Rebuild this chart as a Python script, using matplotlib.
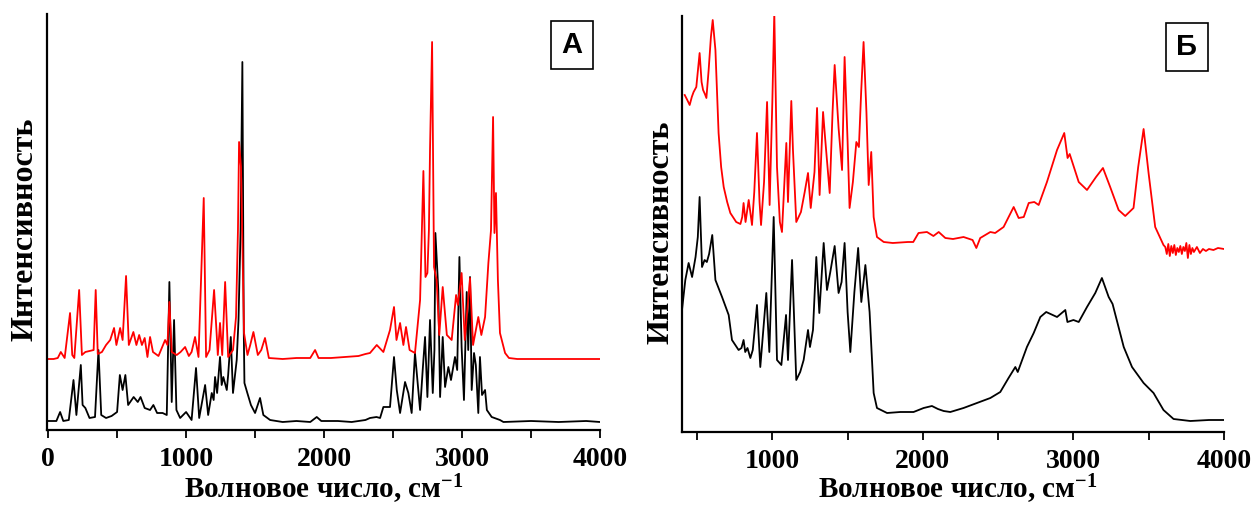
import matplotlib
matplotlib.use('Agg')
import matplotlib.pyplot as plt
from matplotlib.ticker import MultipleLocator

plt.rcParams['font.family'] = ['Liberation Serif', 'DejaVu Serif']
plt.rcParams['font.weight'] = 'bold'
plt.rcParams['mathtext.fontset'] = 'custom'
plt.rcParams['mathtext.rm'] = 'Liberation Serif:bold'
plt.rcParams['mathtext.bf'] = 'Liberation Serif:bold'
plt.rcParams['mathtext.default'] = 'bf'

# ---- panel A (calculated spectra), intensity in arbitrary units ----
a_black_x = [0, 60, 87, 110, 150, 184, 205, 237, 250, 270, 300, 340, 365, 385, 420, 460, 500, 520, 540, 560,
             580, 620, 650, 670, 700, 739, 763, 790, 830, 860, 879, 896, 913, 930, 957, 1000, 1040, 1072, 1095,
             1138, 1160, 1186, 1200, 1210, 1225, 1246, 1258, 1270, 1295, 1305, 1324, 1340, 1367, 1380, 1395,
             1408, 1418, 1423, 1444, 1470, 1500, 1536, 1560, 1609, 1700, 1800, 1900, 1947, 1980, 2100, 2200,
             2300, 2333, 2380, 2406, 2430, 2478, 2507, 2527, 2551, 2587, 2611, 2635, 2659, 2696, 2715, 2732,
             2749, 2768, 2788, 2800, 2807, 2828, 2841, 2860, 2877, 2901, 2920, 2949, 2965, 2981, 2997, 3014,
             3034, 3045, 3058, 3070, 3087, 3100, 3118, 3130, 3145, 3167, 3180, 3215, 3275, 3300, 3500, 3700,
             3900, 4000]
a_black_y = [9, 9, 18, 9, 10, 50, 15, 65, 25, 22, 12, 13, 80, 15, 12, 14, 18, 55, 40, 55,
             25, 33, 28, 33, 22, 20, 25, 17, 17, 15, 148, 28, 110, 20, 12, 18, 10, 62, 12,
             45, 15, 37, 30, 53, 37, 73, 45, 53, 40, 55, 93, 37, 70, 110, 200,
             368, 100, 47, 37, 25, 17, 32, 15, 10, 8, 9, 8, 13, 9, 9, 8,
             10, 12, 13, 12, 23, 23, 73, 40, 17, 48, 37, 17, 77, 20, 60, 93,
             33, 110, 37, 80, 197, 140, 33, 93, 43, 63, 50, 73, 60, 173, 83, 30,
             138, 80, 153, 40, 77, 65, 17, 73, 35, 40, 20, 13, 10, 8, 9, 8,
             9, 8]

a_red_x = [0, 40, 70, 92, 120, 159, 175, 190, 225, 245, 270, 300, 330, 345, 360, 390, 420, 450, 478, 495,
           522, 540, 565, 585, 618, 640, 660, 680, 700, 720, 739, 760, 800, 848, 865, 879, 896, 932, 960, 993,
           1020, 1040, 1065, 1090, 1128, 1145, 1170, 1203, 1220, 1230, 1246, 1262, 1283, 1305, 1340, 1362,
           1376, 1384, 1398, 1420, 1445, 1465, 1488, 1520, 1545, 1572, 1600, 1700, 1800, 1900, 1935, 1960,
           2050, 2150, 2250, 2300, 2333, 2382, 2430, 2478, 2507, 2525, 2551, 2575, 2594, 2620, 2659, 2696,
           2720, 2735, 2749, 2760, 2768, 2783, 2797, 2816, 2835, 2860, 2890, 2925, 2957, 2970, 2997, 3020,
           3058, 3080, 3118, 3140, 3167, 3191, 3210, 3225, 3235, 3246, 3260, 3275, 3312, 3340, 3400, 3600,
           3800, 4000]
a_red_y = [71, 71, 72, 78, 72, 117, 75, 72, 140, 75, 78, 79, 80, 140, 76, 78, 85, 90, 102, 85,
           102, 90, 154, 85, 98, 85, 95, 85, 92, 73, 93, 78, 74, 90, 85, 128, 78, 75, 78, 83,
           74, 78, 93, 73, 232, 73, 80, 140, 100, 75, 107, 75, 148, 73, 80, 113,
           200, 288, 263, 97, 75, 85, 98, 75, 80, 92, 72, 71, 72, 72, 80, 72,
           72, 73, 74, 76, 77, 85, 78, 100, 123, 90, 107, 85, 103, 80, 77, 130,
           259, 153, 157, 200, 280, 388, 163, 150, 95, 143, 95, 90, 135, 125, 157, 90,
           152, 85, 113, 95, 113, 167, 200, 313, 197, 237, 150, 97, 77, 72, 71, 71,
           71, 71]

# ---- panel Б (experimental spectra) ----
b_black_x = [400, 422, 444, 467, 490, 505, 517, 533, 550, 565, 580, 601, 622, 666, 710, 732, 776, 795, 809,
             820, 835, 854, 870, 898, 920, 960, 980, 1009, 1031, 1060, 1091, 1104, 1131, 1159, 1185, 1208,
             1237, 1250, 1270, 1292, 1312, 1341, 1363, 1385, 1414, 1440, 1460, 1480, 1500, 1518, 1545, 1570,
             1591, 1618, 1646, 1673, 1695, 1762, 1850, 1938, 2005, 2060, 2100, 2138, 2182, 2248, 2270, 2359,
             2448, 2514, 2569, 2614, 2630, 2691, 2736, 2780, 2819, 2891, 2946, 2960, 3000, 3035, 3090, 3145,
             3189, 3234, 3260, 3334, 3389, 3466, 3532, 3598, 3665, 3776, 3900, 3997]
b_black_y = [122, 152, 169, 155, 175, 195, 235, 165, 172, 170, 178, 197, 152, 135, 117, 92, 82, 84, 92,
             80, 84, 74, 82, 127, 65, 139, 80, 215, 72, 67, 117, 72, 172, 52, 60, 72,
             102, 85, 102, 175, 119, 189, 142, 160, 186, 139, 150, 189, 120, 80, 140, 184,
             130, 167, 120, 39, 24, 19, 20, 20, 24, 26, 23, 21, 20, 23, 24, 29,
             34, 40, 54, 65, 60, 85, 99, 115, 120, 115, 122, 110, 112, 110, 125, 139,
             154, 135, 128, 85, 65, 49, 39, 22, 13, 11, 12, 12]

b_red_x = [418, 435, 451, 465, 477, 495, 505, 517, 530, 540, 552, 562, 577, 592, 604, 622, 643, 660, 677,
           700, 721, 760, 788, 800, 809, 822, 843, 865, 880, 898, 915, 925, 945, 965, 982, 1000, 1013, 1031,
           1050, 1064, 1080, 1093, 1104, 1126, 1137, 1159, 1190, 1215, 1237, 1255, 1280, 1297, 1314, 1337,
           1350, 1381, 1400, 1414, 1440, 1463, 1480, 1500, 1513, 1535, 1558, 1575, 1590, 1606, 1625, 1640,
           1657, 1673, 1695, 1740, 1800, 1900, 1936, 1971, 2027, 2070, 2105, 2149, 2200, 2270, 2330, 2355,
           2381, 2448, 2480, 2536, 2576, 2603, 2636, 2670, 2703, 2740, 2769, 2824, 2891, 2939, 2961, 2975,
           3035, 3090, 3150, 3196, 3244, 3300, 3344, 3399, 3430, 3466, 3499, 3543, 3598, 3610, 3620, 3630,
           3640, 3650, 3660, 3670, 3680, 3690, 3700, 3710, 3720, 3730, 3740, 3750, 3760, 3770, 3780, 3790,
           3800, 3820, 3840, 3860, 3880, 3900, 3930, 3960, 4000]
b_red_y = [337, 332, 327, 335, 340, 345, 360, 379, 350, 342, 338, 334, 362, 395, 412, 382, 299, 265, 245,
           230, 219, 210, 208, 215, 229, 210, 232, 207, 240, 299, 230, 207, 250, 330, 227, 330, 419, 265,
           210, 200, 250, 289, 230, 331, 282, 210, 220, 240, 259, 224, 260, 324, 237, 320,
           295, 239, 320, 367, 304, 262, 375, 290, 224, 250, 290, 285, 340, 390, 320, 247,
           280, 215, 195, 190, 189, 190, 190, 199, 200, 196, 200, 194, 193, 195, 192, 184,
           194, 200, 199, 205, 217, 225, 214, 215, 229, 230, 227, 250, 282, 299, 274, 278,
           250, 242, 255, 264, 245, 222, 216, 224, 265, 303, 259, 205, 187, 185, 178, 188,
           176, 186, 179, 187, 177, 184, 180, 186, 178, 185, 181, 189, 174, 187, 178, 184,
           180, 185, 179, 183, 181, 183, 182, 184, 183]

fig = plt.figure(figsize=(12.6, 5.05), dpi=100)
ax1 = fig.add_axes([47 / 1260, 75 / 505, 553 / 1260, 416 / 505])
ax2 = fig.add_axes([682 / 1260, 73 / 505, 542 / 1260, 416 / 505])

ax1.plot(a_black_x, a_black_y, color='black', lw=1.3)
ax1.plot(a_red_x, a_red_y, color='red', lw=1.3)
ax1.set_xlim(-8, 4000)
ax1.set_ylim(0, 416)

ax2.plot(b_black_x, b_black_y, color='black', lw=1.3)
ax2.plot(b_red_x, b_red_y, color='red', lw=1.3)
ax2.set_xlim(400, 4000)
ax2.set_ylim(0, 416)

for ax in (ax1, ax2):
    ax.spines['top'].set_visible(False)
    ax.spines['right'].set_visible(False)
    ax.spines['left'].set_linewidth(1.6)
    ax.spines['bottom'].set_linewidth(1.6)
    ax.set_yticks([])
    ax.xaxis.set_major_locator(MultipleLocator(1000))
    ax.xaxis.set_minor_locator(MultipleLocator(500))
    ax.tick_params(axis='x', which='both', direction='out', length=6, width=1.3, pad=6, labelsize=20)
    for lab in ax.get_xticklabels():
        lab.set_fontweight('bold')

fig.text(25 / 1260, 1 - 229 / 505, 'Интенсивность', rotation=90, ha='center', va='center',
         fontsize=23, fontweight='bold')
fig.text(661 / 1260, 1 - 232 / 505, 'Интенсивность', rotation=90, ha='center', va='center',
         fontsize=23, fontweight='bold')
fig.text(324 / 1260, 1 - 498 / 505, 'Волновое число, см$^{-1}$', ha='center', va='baseline',
         fontsize=21, fontweight='bold')
fig.text(958 / 1260, 1 - 498 / 505, 'Волновое число, см$^{-1}$', ha='center', va='baseline',
         fontsize=21, fontweight='bold')

fig.text(572 / 1260, 1 - 45 / 505, 'А', ha='center', va='center', fontsize=21, fontweight='bold',
         family='Liberation Sans',
         bbox=dict(boxstyle='square,pad=0.35', facecolor='white', edgecolor='black', lw=1.2))
fig.text(1187 / 1260, 1 - 47 / 505, 'Б', ha='center', va='center', fontsize=21, fontweight='bold',
         family='Liberation Sans',
         bbox=dict(boxstyle='square,pad=0.35', facecolor='white', edgecolor='black', lw=1.2))

plt.savefig('out.png', dpi=100)
